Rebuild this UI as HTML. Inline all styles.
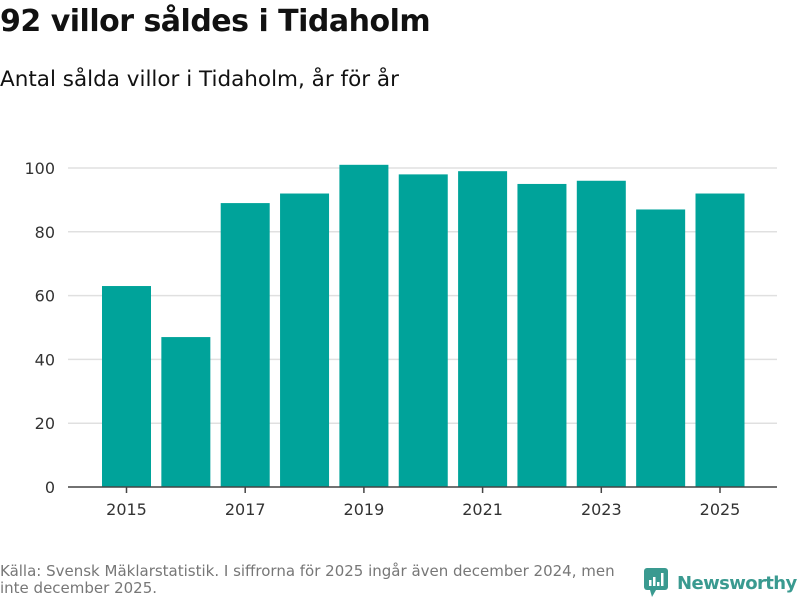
<!DOCTYPE html>
<html><head><meta charset="utf-8"><style>
body{margin:0;width:800px;height:600px;background:#fff;font-family:"DejaVu Sans","Liberation Sans",sans-serif;overflow:hidden;position:relative}
#title{position:absolute;left:0;top:4px;font-size:30px;font-weight:bold;color:#111;letter-spacing:-0.5px}
#sub{position:absolute;left:0;top:67px;font-size:21.5px;color:#111}
#src{position:absolute;left:0;top:563px;font-size:15px;color:#777;line-height:17px;width:640px}
#logo{position:absolute;left:644px;top:568px;display:flex;align-items:center}
#logo span{font-size:18px;font-weight:bold;color:#3a9a90;margin-left:9px;letter-spacing:-0.6px}
svg{position:absolute;left:0;top:0}
</style></head><body>
<div id="title">92 villor såldes i Tidaholm</div>
<div id="sub">Antal sålda villor i Tidaholm, år för år</div>
<svg id="chart" width="800" height="600"></svg>
<div id="src">Källa: Svensk Mäklarstatistik. I siffrorna för 2025 ingår även december 2024, men inte december 2025.</div>
<div id="logo">
<svg width="24" height="30" style="position:static"><rect x="0" y="0" width="24" height="22" rx="3" fill="#3a9a90"/><polygon points="6,22 12,22 8,29" fill="#3a9a90"/><rect x="5" y="12" width="2.5" height="6" fill="#fff"/><rect x="9" y="9" width="2.5" height="9" fill="#fff"/><rect x="13" y="14" width="2.5" height="4" fill="#fff"/><rect x="17" y="5" width="2.5" height="13" fill="#fff"/></svg>
<span>Newsworthy</span></div>
<script>
const years=[2015,2016,2017,2018,2019,2020,2021,2022,2023,2024,2025];
const values=[63,47,89,92,101,98,99,95,96,87,92];
const yTicks=[0,20,40,60,80,100];
const xLabels=[2015,2017,2019,2021,2023,2025];
const svg=document.getElementById('chart');
const NS='http://www.w3.org/2000/svg';
const y0=487,yPer=3.19,x0=126.5,step=59.35,bw=49,xl=68,xr=777;
const y=v=>y0-v*yPer;
const x=i=>x0+i*step;
function mk(t,a){const e=document.createElementNS(NS,t);for(const k in a)e.setAttribute(k,a[k]);svg.appendChild(e);return e;}
yTicks.forEach(t=>{
 if(t>0){const g=mk('line',{x1:xl,x2:xr,y1:y(t),y2:y(t),stroke:'#e0e0e0','stroke-width':1.5});
 
 }
 const l=mk('text',{x:55,y:y(t)+6,'text-anchor':'end','font-size':16,fill:'#333','font-family':'DejaVu Sans, sans-serif'});
 l.textContent=t;
 
 
});
values.forEach((v,i)=>{
 const r=mk('rect',{x:x(i)-bw/2,y:y(v),width:bw,height:v*yPer,fill:'#00a39a'});
 
 
});
const ax=mk('line',{x1:xl,x2:xr,y1:y0,y2:y0,stroke:'#444','stroke-width':1.5});


xLabels.forEach(yr=>{
 const i=years.indexOf(yr);
 const tk=mk('line',{x1:x(i),x2:x(i),y1:y0,y2:y0+6,stroke:'#444','stroke-width':1.5});
 
 
 const l=mk('text',{x:x(i),y:515,'text-anchor':'middle','font-size':16,fill:'#333','font-family':'DejaVu Sans, sans-serif'});
 l.textContent=yr;
 
 
});
</script>
</body></html>
